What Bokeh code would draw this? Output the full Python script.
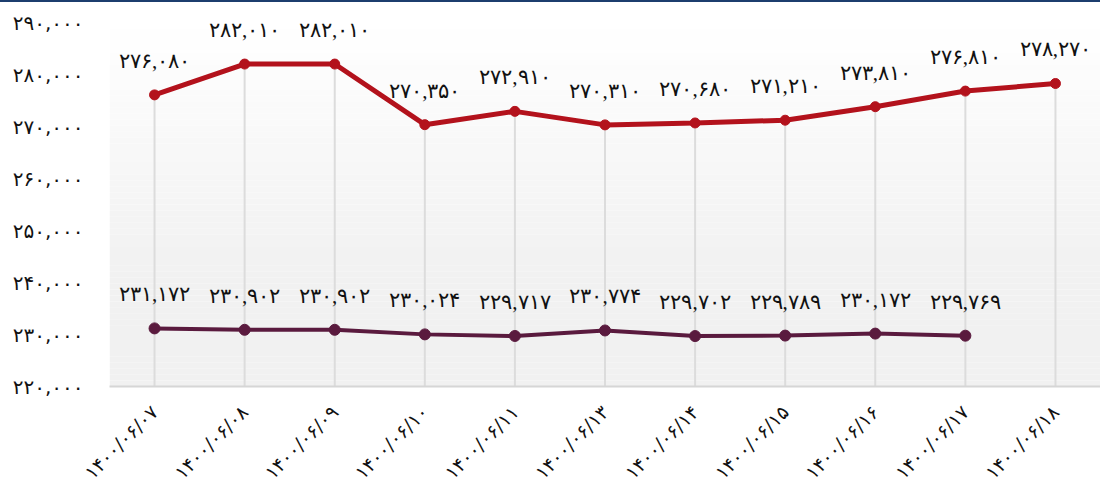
import math
from bokeh.plotting import figure
from bokeh.models import ColumnDataSource, FactorRange, Range1d, FixedTicker, LabelSet, BoxAnnotation
from bokeh.embed import file_html
from bokeh.resources import INLINE

FA = str.maketrans("0123456789", "۰۱۲۳۴۵۶۷۸۹")


def fa(s):
    return str(s).translate(FA)


# ---- data ----
dates = ["1400/06/07", "1400/06/08", "1400/06/09", "1400/06/10", "1400/06/11",
         "1400/06/13", "1400/06/14", "1400/06/15", "1400/06/16", "1400/06/17",
         "1400/06/18"]
series_red = [276080, 282010, 282010, 270350, 272910, 270310, 270680, 271210,
              273810, 276810, 278270]
series_purple = [231172, 230902, 230902, 230024, 229717, 230774, 229702, 229789,
                 230172, 229769, float("nan")]
y_ticks = [220000, 230000, 240000, 250000, 260000, 270000, 280000, 290000]

categories = [fa(d) for d in dates]
FONT = "DejaVu Sans"
RED = "#b3121c"
PURPLE = "#5a1a3e"

y0, y1 = y_ticks[0], y_ticks[-1]

p = figure(width=1100, height=491, x_range=FactorRange(*categories, range_padding=0),
           y_range=Range1d(y0, y1), output_backend="svg", toolbar_location=None,
           min_border_left=109, min_border_right=0, min_border_top=20, min_border_bottom=106)
p.styles = {"border-top": "2px solid #1c3d6e"}
p.outline_line_color = None
p.background_fill_color = "white"
p.border_fill_color = "white"

# background gradient (white top -> light gray bottom)
n = 60
for i in range(n):
    t = (i + 0.5) / n  # 0 at bottom .. 1 at top
    frac = 1 - t
    g = int(round(255 - 14 * min(1.0, frac / 0.7)))
    col = "#%02x%02x%02x" % (g, g, g)
    p.add_layout(BoxAnnotation(bottom=y0 + (y1 - y0) * i / n, top=y0 + (y1 - y0) * (i + 1) / n,
                               fill_color=col, fill_alpha=1, line_color=None, level="underlay"))

red_src = ColumnDataSource(dict(x=categories, y=series_red, base=[y0] * len(categories),
                                label=[fa(f"{v:,}") for v in series_red]))
pur_src = ColumnDataSource(dict(x=categories, y=series_purple))
pur_lbl = ColumnDataSource(dict(
    x=[c for c, v in zip(categories, series_purple) if not math.isnan(v)],
    y=[v for v in series_purple if not math.isnan(v)],
    label=[fa(f"{int(v):,}") for v in series_purple if not math.isnan(v)]))

# drop lines
p.segment(x0="x", y0="y", x1="x", y1="base", source=red_src, line_color="#dcdcdc", line_width=2)

p.line("x", "y", source=red_src, line_color=RED, line_width=5)
p.scatter("x", "y", source=red_src, size=10, fill_color=RED, line_color=RED)
p.line("x", "y", source=pur_src, line_color=PURPLE, line_width=4)
p.scatter("x", "y", source=pur_src, size=11, fill_color=PURPLE, line_color=PURPLE)

for src in (red_src, pur_lbl):
    p.add_layout(LabelSet(x="x", y="y", text="label", source=src, y_offset=34,
                          text_align="center", text_baseline="middle",
                          text_font=FONT, text_font_size="21px", text_color="#111111"))

p.xgrid.grid_line_color = None
p.ygrid.grid_line_color = None

p.yaxis.ticker = FixedTicker(ticks=y_ticks)
p.yaxis.major_label_overrides = {v: fa(f"{v:,}") for v in y_ticks}
p.yaxis.axis_line_color = None
p.yaxis.major_tick_line_color = None
p.yaxis.minor_tick_line_color = None
p.yaxis.major_label_standoff = 20
p.yaxis.major_label_text_font = FONT
p.yaxis.major_label_text_font_size = "20px"
p.yaxis.major_label_text_color = "#111111"

p.xaxis.axis_line_color = "#d6d6d6"
p.xaxis.axis_line_width = 2
p.xaxis.major_tick_line_color = None
p.xaxis.minor_tick_line_color = None
p.xaxis.major_label_orientation = math.pi / 4
p.xaxis.major_label_standoff = 16
p.xaxis.major_label_text_font = FONT
p.xaxis.major_label_text_font_size = "19px"
p.xaxis.major_label_text_color = "#111111"

open("out.html", "w").write(file_html(p, INLINE))
